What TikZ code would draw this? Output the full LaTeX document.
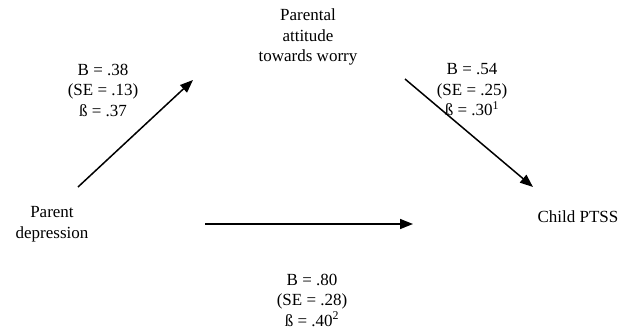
\documentclass[tikz,border=0pt]{standalone}
\usepackage{fontspec}
\setmainfont{Liberation Serif}
\usetikzlibrary{arrows.meta}
\begin{document}
\begin{tikzpicture}[x=1pt,y=-1pt,
  txt/.style={align=center,inner sep=0pt,font=\fontsize{17}{20.5}\selectfont},
  path/.style={line width=1.5pt,-{Triangle[length=13pt,width=10pt]}}]
\useasboundingbox (0,0) rectangle (633,333);
\node[txt] (pa) at (308,37) {Parental\\attitude\\towards worry};
\node[txt] (pd) at (52,224) {Parent\\depression};
\node[txt] (cp) at (578,217) {Child PTSS};
\node[txt] (l1) at (103,90) {B = .38\\(SE = .13)\\ß = .37};
\node[txt] (l2) at (472,90) {B = .54\\(SE = .25)\\ß = .30\textsuperscript{1}};
\node[txt] (l3) at (312,300) {B = .80\\(SE = .28)\\ß = .40\textsuperscript{2}};
\coordinate (a1s) at (78,187);
\coordinate (a1e) at (193,80);
\coordinate (a2s) at (405,79);
\coordinate (a2e) at (533,187);
\coordinate (a3s) at (205,224);
\coordinate (a3e) at (413,224);
\draw[path] (a1s) -- (a1e);
\draw[path] (a2s) -- (a2e);
\draw[path] (a3s) -- (a3e);
\end{tikzpicture}
\end{document}
